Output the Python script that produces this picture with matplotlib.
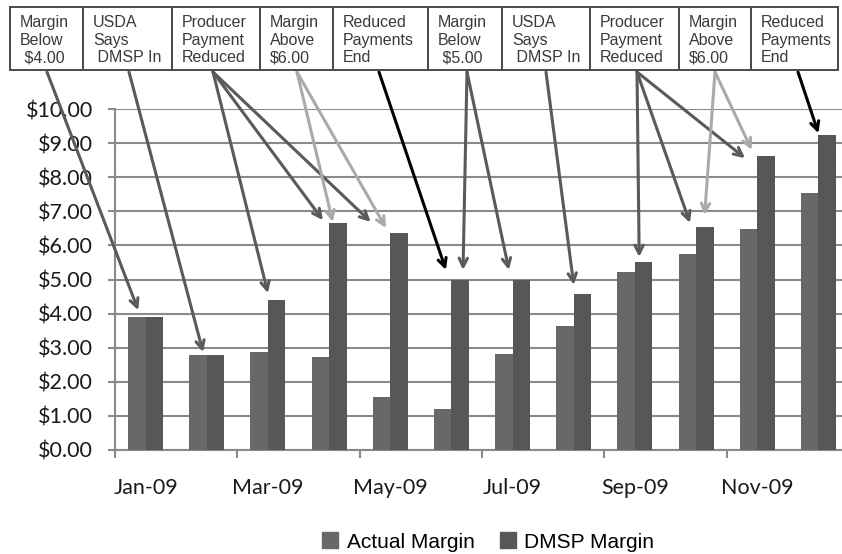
import numpy as np
import matplotlib
matplotlib.use("Agg")
import matplotlib.pyplot as plt
from matplotlib.patches import Rectangle
from matplotlib.lines import Line2D

months = ["Jan-09", "Feb-09", "Mar-09", "Apr-09", "May-09", "Jun-09",
          "Jul-09", "Aug-09", "Sep-09", "Oct-09", "Nov-09", "Dec-09"]
actual_margin = [3.90, 2.78, 2.88, 2.72, 1.55, 1.19, 2.81, 3.64, 5.22, 5.75, 6.49, 7.53]
dmsp_margin = [3.90, 2.78, 4.40, 6.65, 6.35, 5.00, 5.00, 4.57, 5.52, 6.55, 8.63, 9.24]

box_texts = ["Margin\nBelow\n $4.00", "USDA\nSays\n DMSP In", "Producer\nPayment\nReduced",
             "Margin\nAbove\n$6.00", "Reduced\nPayments\nEnd",
             "Margin\nBelow\n $5.00", "USDA\nSays\n DMSP In", "Producer\nPayment\nReduced",
             "Margin\nAbove\n$6.00", "Reduced\nPayments\nEnd"]

# arrows: (box, month index, x offset, y offset above DMSP bar)
arrows = [(0, 0, -0.12, 0.20), (1, 1, -0.06, 0.09),
          (2, 2, 0.0, 0.20), (2, 3, -0.10, 0.09), (2, 4, -0.32, 0.34),
          (3, 3, 0.06, 0.04), (3, 4, -0.07, 0.16),
          (4, 5, -0.09, 0.28),
          (5, 5, 0.19, 0.28), (5, 6, -0.06, 0.28),
          (6, 7, 0.0, 0.27),
          (7, 8, 0.07, 0.14), (7, 9, -0.10, 0.11), (7, 10, -0.20, -0.07),
          (8, 9, 0.14, 0.34), (8, 10, -0.09, 0.17),
          (9, 11, 0.0, 0.05)]

W, H = 842, 554
fig = plt.figure(figsize=(W / 100, H / 100), dpi=100)
fig.patch.set_facecolor("white")

# axes in pixel layout (right side runs off the picture like the original)
ax_left, ax_bottom, ax_w, ax_h = 115, 104, 734, 341
ax = fig.add_axes([ax_left / W, ax_bottom / H, ax_w / W, ax_h / H])

x = np.arange(len(months))
bw = 0.287
ax.bar(x - bw / 2, actual_margin, bw, color="#686868", zorder=3, label="Actual Margin")
ax.bar(x + bw / 2, dmsp_margin, bw, color="#575757", zorder=3, label="DMSP Margin")

ax.set_xlim(-0.5, 11.5)
ax.set_ylim(0, 10)
grid_col = "#8a8a8a"
ax.set_yticks(np.arange(0, 11, 1))
ax.set_yticklabels(["${:.2f}".format(v) for v in range(11)], fontfamily="Lato",
                   fontsize=15.5, color="#1a1a1a")
ax.yaxis.grid(True, color=grid_col, lw=1.5, zorder=0)
ax.tick_params(axis="y", length=5, width=1.5, color=grid_col, pad=11)

ax.set_xticks(x[::2])
ax.set_xticklabels(months[::2], fontfamily="Lato", fontsize=15.5, color="#1a1a1a")
ax.set_xticks(np.arange(-0.5, 12, 2), minor=True)
ax.tick_params(axis="x", which="major", length=0, pad=20)
ax.tick_params(axis="x", which="minor", length=6, width=1.5, color=grid_col)
for s in ["top", "right"]:
    ax.spines[s].set_visible(False)
for s in ["left", "bottom"]:
    ax.spines[s].set_color(grid_col)
    ax.spines[s].set_linewidth(1.5)

# top annotation boxes (pixel positions from the left edge)
box_edges = [10, 83, 172, 260, 333, 428, 502, 590, 679, 751, 838]
box_top, box_bot = 7, 70
for i, txt in enumerate(box_texts):
    l, r = box_edges[i], box_edges[i + 1]
    fig.patches.append(Rectangle((l / W, 1 - box_bot / H), (r - l) / W,
                                 (box_bot - box_top) / H, transform=fig.transFigure,
                                 facecolor="white", edgecolor="#4a4a4a", lw=1.4))
    fig.text((l + 10) / W, 1 - 15 / H, txt, ha="left", va="top", fontsize=11.5,
             family="Liberation Sans", color="#3a3a3a", linespacing=1.22)

box_starts = [47, 129, 213, 297, 379, 467, 546, 637, 715, 798]
box_colors = ["#5a5a5a", "#5a5a5a", "#5a5a5a", "#aaaaaa", "#000000",
              "#5a5a5a", "#5a5a5a", "#5a5a5a", "#aaaaaa", "#000000"]
for b, m, dx, dy in arrows:
    ax.annotate("", xy=(m + dx, dmsp_margin[m] + dy),
                xytext=(box_starts[b], H - 72), textcoords="figure pixels",
                arrowprops=dict(arrowstyle="->,head_length=0.6,head_width=0.3",
                                color=box_colors[b], lw=2.2, shrinkA=0, shrinkB=0),
                annotation_clip=False, zorder=5)

handles = [Line2D([], [], marker="s", ls="", color="#686868", markersize=11),
           Line2D([], [], marker="s", ls="", color="#575757", markersize=11)]
fig.legend(handles, ["Actual Margin", "DMSP Margin"], loc="center",
           bbox_to_anchor=(488 / W, 12 / H), ncol=2, frameon=False,
           prop={"family": "Liberation Sans", "size": 15}, handlelength=0.8,
           handletextpad=0.4, columnspacing=1.2)

fig.savefig("out.png", dpi=100)
